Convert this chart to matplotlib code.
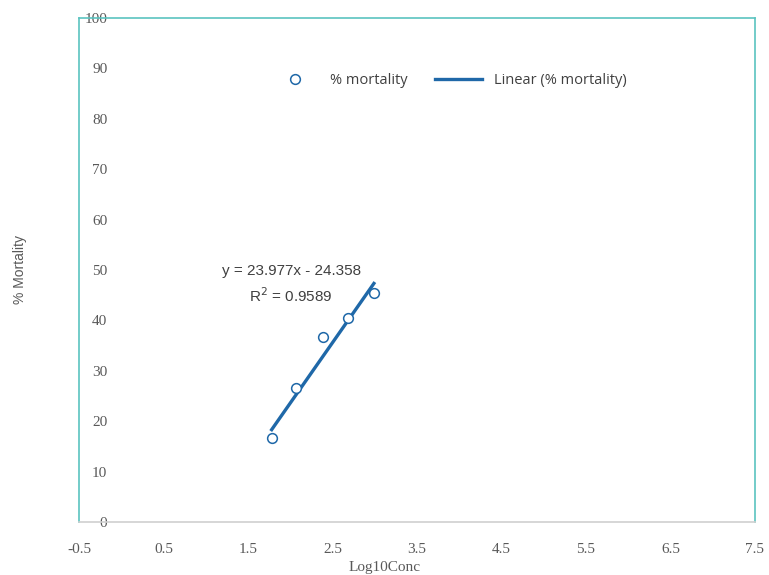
import matplotlib
matplotlib.use("Agg")
import matplotlib.pyplot as plt
import numpy as np

log_conc = [1.78, 2.07, 2.39, 2.68, 2.99]
mortality = [16.7, 26.6, 36.7, 40.5, 45.4]
slope = 23.977
intercept = -24.358
r2 = 0.9589
x_ticks = [-0.5, 0.5, 1.5, 2.5, 3.5, 4.5, 5.5, 6.5, 7.5]
y_ticks = [0, 10, 20, 30, 40, 50, 60, 70, 80, 90, 100]

fig = plt.figure(figsize=(7.69, 5.75), dpi=100)
ax = fig.add_axes([79/769, 1-522/575, (755-79)/769, (522-18)/575])

teal = "#5bc4c0"
blue = "#1f68a8"
gray = "#595959"

ax.set_xlim(-0.5, 7.5)
ax.set_ylim(0, 100)
ax.set_xticks(x_ticks)
ax.set_yticks(y_ticks)
ax.set_xticklabels([f"{v:g}" for v in x_ticks])
ax.set_yticklabels([str(v) for v in y_ticks])

for s in ["top", "right"]:
    ax.spines[s].set_color(teal)
    ax.spines[s].set_linewidth(1.2)
ax.spines["left"].set_position(("data", 0))
ax.spines["left"].set_visible(False)
ax.spines["bottom"].set_color("#d0d0d0")
ax.spines["bottom"].set_linewidth(1.2)
ax.axvline(-0.5, color=teal, lw=1.2, clip_on=False)
ax.tick_params(axis="both", length=0)
ax.tick_params(axis="x", pad=15)
ax.tick_params(axis="y", pad=10)
for lab in ax.get_xticklabels() + ax.get_yticklabels():
    lab.set_fontfamily("Liberation Serif")
    lab.set_fontsize(11)
    lab.set_color(gray)

xs = np.array([min(log_conc), max(log_conc)])
ax.plot(log_conc, mortality, linestyle="none", marker="o", markersize=7,
        markerfacecolor="white", markeredgecolor=blue, markeredgewidth=1.1,
        label="% mortality", zorder=3)
ax.plot(xs, slope*xs + intercept, color=blue, lw=2.4, label="Linear (% mortality)", zorder=2)

ax.text(2.01, 49.9, f"y = {slope}x - {-intercept}", ha="center", va="center",
        family="Liberation Sans", fontsize=11, color="#404040")
ax.text(2.01, 45.0, f"R$^2$ = {r2}", ha="center", va="center",
        family="Liberation Sans", fontsize=11, color="#404040")

ax.legend(loc="center", bbox_to_anchor=((449-79)/676, 1-(81-18)/504), ncol=2, frameon=False,
          prop={"family": "Open Sans", "size": 10.5}, labelcolor="#404040",
          handlelength=3.2, columnspacing=1.9, handletextpad=0.8)

fig.text(385/769, 1-567/575, "Log10Conc", ha="center", va="center",
         family="Liberation Serif", fontsize=11, color=gray)
fig.text(20/769, 1-270/575, "% Mortality", rotation=90, ha="center", va="center",
         family="Liberation Sans", fontsize=10, color=gray)

fig.savefig("out.png", dpi=100)
